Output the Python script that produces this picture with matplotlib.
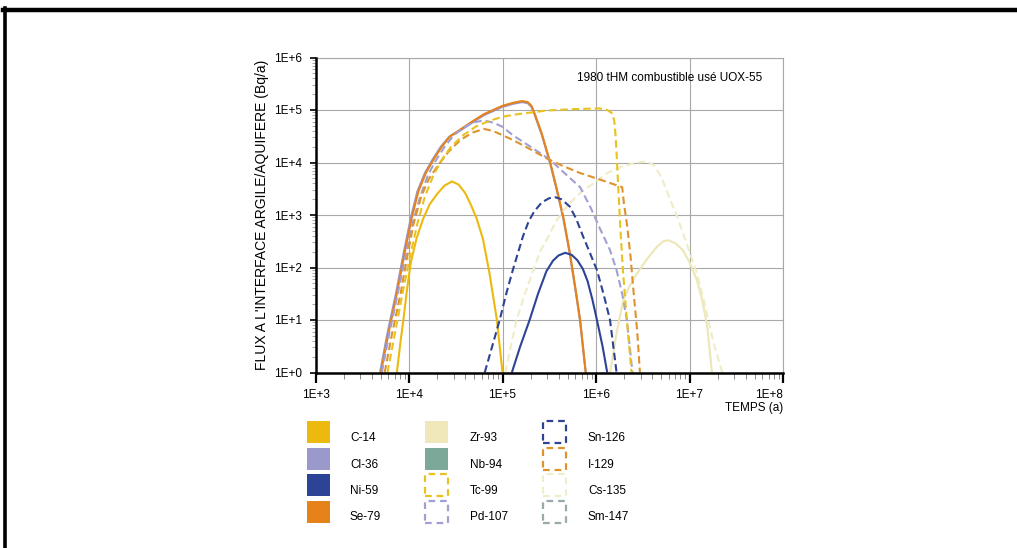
import numpy as np
import matplotlib
matplotlib.use("Agg")
from matplotlib import pyplot as plt
from matplotlib.patches import Rectangle
from matplotlib.lines import Line2D
from matplotlib.ticker import LogLocator, NullFormatter, FixedLocator

plt.rcParams['font.family'] = ['Liberation Sans', 'DejaVu Sans']

W, H = 1017, 548

# values, as log10(time in years) and log10(flux in Bq/a)
c14_logt = [3.87, 3.91, 3.94, 3.98, 4.02, 4.08, 4.15, 4.22, 4.30, 4.38, 4.46, 4.53, 4.60, 4.66, 4.72, 4.79, 4.86, 4.94, 5.00]
c14_logf = [0.0, 0.6, 1.0, 1.6, 2.1, 2.55, 2.92, 3.2, 3.4, 3.56, 3.64, 3.58, 3.42, 3.2, 2.95, 2.55, 1.9, 1.0, 0.0]

se79_logt = [3.70, 3.78, 3.87, 3.95, 4.03, 4.10, 4.18, 4.26, 4.35, 4.44, 4.55, 4.65, 4.80, 5.00, 5.12, 5.21, 5.27,
             5.31, 5.35, 5.42, 5.51, 5.58, 5.65, 5.72, 5.78, 5.83, 5.89]
se79_logf = [0.0, 0.75, 1.5, 2.25, 2.95, 3.45, 3.8, 4.05, 4.3, 4.5, 4.63, 4.75, 4.92, 5.08, 5.14, 5.17, 5.15,
             5.08, 4.9, 4.55, 4.0, 3.5, 2.96, 2.28, 1.6, 1.0, 0.0]

cl36_logt = [3.69, 3.77, 3.86, 3.94, 4.02, 4.09, 4.17, 4.25, 4.34, 4.43, 4.55, 4.65, 4.80, 5.00, 5.12, 5.21, 5.27,
             5.31, 5.35, 5.42, 5.51, 5.58, 5.65, 5.72, 5.78, 5.83, 5.89]
cl36_logf = [0.0, 0.75, 1.5, 2.25, 2.95, 3.45, 3.8, 4.05, 4.3, 4.49, 4.61, 4.73, 4.9, 5.06, 5.12, 5.15, 5.13,
             5.06, 4.88, 4.53, 3.98, 3.48, 2.94, 2.26, 1.58, 0.98, 0.0]

ni59_logt = [5.10, 5.19, 5.29, 5.38, 5.47, 5.54, 5.60, 5.67, 5.74, 5.80, 5.86, 5.91, 5.96, 6.01, 6.07, 6.12]
ni59_logf = [0.0, 0.5, 1.0, 1.5, 1.93, 2.13, 2.23, 2.28, 2.24, 2.14, 1.97, 1.74, 1.4, 1.0, 0.5, 0.0]

zr93_logt = [6.15, 6.22, 6.29, 6.36, 6.44, 6.55, 6.65, 6.72, 6.77, 6.85, 6.93, 7.00, 7.08, 7.14, 7.19, 7.24]
zr93_logf = [0.0, 0.75, 1.37, 1.65, 1.89, 2.17, 2.39, 2.5, 2.52, 2.46, 2.33, 2.1, 1.76, 1.35, 0.87, 0.0]

tc99_logt = [3.77, 3.85, 3.93, 4.01, 4.09, 4.17, 4.26, 4.35, 4.45, 4.58, 4.72, 4.87, 5.00, 5.12, 5.47, 5.80,
             6.04, 6.12, 6.17, 6.195, 6.21, 6.225, 6.24, 6.265, 6.29, 6.33, 6.38]
tc99_logf = [0.0, 0.75, 1.5, 2.2, 2.84, 3.35, 3.75, 4.05, 4.3, 4.52, 4.69, 4.8, 4.87, 4.91, 4.99, 5.02,
             5.03, 5.0, 4.94, 4.8, 4.5, 4.0, 3.45, 2.6, 1.9, 1.0, 0.0]

pd107_logt = [3.71, 3.79, 3.88, 3.96, 4.04, 4.12, 4.20, 4.28, 4.38, 4.48, 4.58, 4.68, 4.80, 4.90, 5.00, 5.11,
              5.30, 5.51, 5.65, 5.83, 5.94, 6.04, 6.15, 6.22, 6.28, 6.33, 6.39]
pd107_logf = [0.0, 0.75, 1.5, 2.2, 2.85, 3.35, 3.75, 4.02, 4.3, 4.52, 4.66, 4.76, 4.8, 4.76, 4.68, 4.52,
              4.3, 4.05, 3.82, 3.53, 3.15, 2.75, 2.33, 1.95, 1.5, 1.0, 0.0]

sn126_logt = [4.81, 4.89, 4.97, 5.04, 5.11, 5.22, 5.28, 5.34, 5.42, 5.50, 5.56, 5.63, 5.72, 5.79, 5.86, 5.93,
              6.01, 6.08, 6.15, 6.22]
sn126_logf = [0.0, 0.5, 1.0, 1.5, 1.95, 2.6, 2.88, 3.07, 3.24, 3.32, 3.34, 3.3, 3.16, 2.92, 2.6, 2.3,
              1.95, 1.5, 1.0, 0.0]

i129_logt = [3.74, 3.82, 3.91, 3.98, 4.05, 4.13, 4.21, 4.30, 4.42, 4.55, 4.68, 4.80, 4.90, 5.00, 5.11, 5.30,
             5.47, 5.65, 5.83, 6.05, 6.28, 6.30, 6.33, 6.37, 6.40, 6.44, 6.47]
i129_logf = [0.0, 0.75, 1.5, 2.2, 2.84, 3.35, 3.68, 3.92, 4.2, 4.43, 4.57, 4.64, 4.6, 4.52, 4.43, 4.25,
             4.08, 3.93, 3.8, 3.67, 3.53, 3.2, 2.84, 2.2, 1.57, 0.8, 0.0]

cs135_logt = [5.03, 5.09, 5.15, 5.24, 5.33, 5.40, 5.47, 5.58, 5.66, 5.75, 5.85, 5.94, 6.12, 6.29, 6.44, 6.55,
              6.62, 6.70, 6.78, 6.87, 6.97, 7.08, 7.17, 7.25, 7.35]
cs135_logf = [0.0, 0.5, 1.0, 1.5, 1.95, 2.3, 2.52, 2.9, 3.1, 3.28, 3.45, 3.56, 3.8, 3.93, 4.0, 4.02,
              3.95, 3.72, 3.35, 2.96, 2.45, 1.89, 1.25, 0.62, 0.0]

# legend entries, three columns of four
legend_labels = ['C-14', 'Cl-36', 'Ni-59', 'Se-79',
                 'Zr-93', 'Nb-94', 'Tc-99', 'Pd-107',
                 'Sn-126', 'I-129', 'Cs-135', 'Sm-147']
legend_colors = ['#ECB90F', '#9B98CB', '#2D4496', '#E5821A',
                 '#F0E8BA', '#7BA898', '#E8C21E', '#A0A0D2',
                 '#2E4392', '#E0922E', '#F0EDCC', '#9AAAAA']
legend_dashed = [False, False, False, False,
                 False, False, True, True,
                 True, True, True, True]

x_ticks = [1e3, 1e4, 1e5, 1e6, 1e7, 1e8]
x_tick_labels = ['1E+3', '1E+4', '1E+5', '1E+6', '1E+7', '1E+8']
y_ticks = [1e0, 1e1, 1e2, 1e3, 1e4, 1e5, 1e6]
y_tick_labels = ['1E+0', '1E+1', '1E+2', '1E+3', '1E+4', '1E+5', '1E+6']


def fx(px):
    return px / W


def fy(py):
    return 1 - py / H


fig = plt.figure(figsize=(W / 100, H / 100), dpi=100)
ax = fig.add_axes([fx(315.5), fy(372.5), (783 - 315.5) / W, (372.5 - 57.5) / H])

dash = (0, (3.6, 1.9))
curves = [
    (cl36_logt, cl36_logf, '#9B98CB', '-'),
    (se79_logt, se79_logf, '#E5821A', '-'),
    (zr93_logt, zr93_logf, '#EDE6B6', '-'),
    (cs135_logt, cs135_logf, '#F0ECC8', dash),
    (pd107_logt, pd107_logf, '#A0A0D2', dash),
    (i129_logt, i129_logf, '#E0922E', dash),
    (tc99_logt, tc99_logf, '#E8C21E', dash),
    (c14_logt, c14_logf, '#ECB90F', '-'),
    (sn126_logt, sn126_logf, '#2E4392', dash),
    (ni59_logt, ni59_logf, '#2D4496', '-'),
]
for lt, lf, color, ls in curves:
    ax.plot(10 ** np.array(lt), 10 ** np.array(lf), color=color, linestyle=ls, lw=1.5,
            solid_capstyle='butt', dash_capstyle='butt', solid_joinstyle='round', zorder=3)

ax.set_xscale('log')
ax.set_yscale('log')
ax.set_xlim(1e3, 1e8)
ax.set_ylim(1e0, 1e6)

ax.xaxis.set_major_locator(FixedLocator(x_ticks))
ax.set_xticklabels(x_tick_labels)
ax.yaxis.set_major_locator(FixedLocator(y_ticks))
ax.set_yticklabels(y_tick_labels)
ax.xaxis.set_minor_locator(LogLocator(base=10, subs=np.arange(2, 10), numticks=20))
ax.yaxis.set_minor_locator(LogLocator(base=10, subs=np.arange(2, 10), numticks=20))
ax.xaxis.set_minor_formatter(NullFormatter())
ax.yaxis.set_minor_formatter(NullFormatter())
ax.get_xticklabels()[-1].set_ha('right')

ax.tick_params(axis='x', which='major', direction='out', length=7, width=1.6, color='black',
               labelsize=8.5, pad=5)
ax.tick_params(axis='x', which='minor', direction='out', length=4, width=0.7, color='#888888')
ax.tick_params(axis='y', which='major', direction='out', length=4, width=1.2, color='black',
               labelsize=8.5, pad=6)
ax.tick_params(axis='y', which='minor', direction='out', length=3, width=0.6, color='#999999')

ax.grid(True, which='major', color='#A8A8A8', lw=0.8, zorder=0)
ax.set_axisbelow(True)
for side in ('top', 'right'):
    ax.spines[side].set_color('#A8A8A8')
    ax.spines[side].set_linewidth(0.8)
for side in ('left', 'bottom'):
    ax.spines[side].set_color('black')
    ax.spines[side].set_linewidth(1.8)
    ax.spines[side].set_zorder(5)

ax.text(0.955, 0.935, '1980 tHM combustible usé UOX-55', transform=ax.transAxes,
        ha='right', va='center', fontsize=8.5)

fig.text(fx(783), fy(408), 'TEMPS (a)', ha='right', va='center', fontsize=8.5)
fig.text(fx(262), fy(215), "FLUX A L'INTERFACE ARGILE/AQUIFERE (Bq/a)", rotation=90,
         ha='center', va='center', fontsize=10)

# legend drawn as swatches in three columns
col_left = [307, 425, 543]
col_text = [350, 470, 588]
row_top = [421, 447.5, 474, 500.5]
sw, sh = 23, 22
for i, (lab, color, dashed) in enumerate(zip(legend_labels, legend_colors, legend_dashed)):
    c, r = divmod(i, 4)
    x0, y0 = col_left[c], row_top[r]
    if dashed:
        rect = Rectangle((fx(x0), fy(y0 + sh)), sw / W, sh / H, transform=fig.transFigure,
                         facecolor='none', edgecolor=color, lw=1.6, linestyle=(0, (3.0, 2.2)))
    else:
        rect = Rectangle((fx(x0), fy(y0 + sh)), sw / W, sh / H, transform=fig.transFigure,
                         facecolor=color, edgecolor='none')
    fig.patches.append(rect)
    fig.text(fx(col_text[c]), fy(y0 + sh / 2 + 6), lab, ha='left', va='center', fontsize=8.5)

# frame lines at the top and left of the picture
fig.lines.append(Line2D([fx(3), fx(W)], [fy(9.5), fy(9.5)], transform=fig.transFigure,
                        color='black', lw=3.2))
fig.lines.append(Line2D([fx(4.5), fx(4.5)], [fy(8), fy(H)], transform=fig.transFigure,
                        color='black', lw=2.6))

fig.savefig('out.png', dpi=100)
